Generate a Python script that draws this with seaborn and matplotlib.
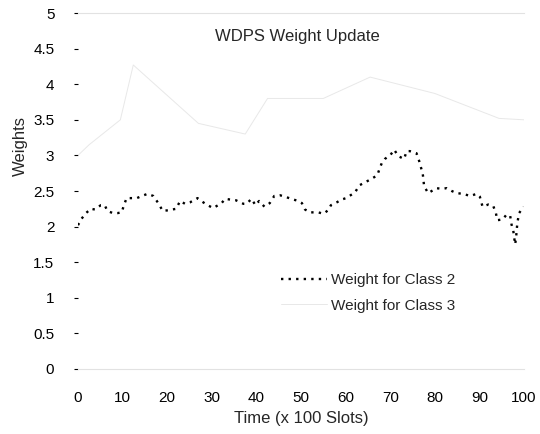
import matplotlib
matplotlib.use("Agg")
import matplotlib.pyplot as plt
import seaborn as sns
import pandas as pd
import numpy as np

# ---- data ----
time_c2 = [0, 0.8, 1.8, 2.9, 3.8, 5.1, 6.0, 6.6, 7.8, 8.9, 9.8, 10.3, 10.9, 12.0, 13.2,
           14.3, 15.6, 16.9, 18.0, 19.0, 20.3, 22.0, 22.9, 24.0, 25.1, 26.8, 27.6, 29.1,
           30.3, 32.2, 33.0, 34.1, 35.4, 37.1, 37.8, 38.9, 39.8, 40.6, 41.8, 43.0, 44.0,
           45.3, 46.4, 48.3, 49.4, 50.2, 50.9, 52.0, 53.1, 53.9, 55.0, 56.1, 56.7, 58.0,
           59.1, 60.1, 61.1, 62.1, 63.1, 64.3, 65.5, 67.1, 67.6, 68.1, 68.8, 70.1, 70.9,
           71.8, 73.1, 73.7, 74.4, 75.9, 76.5, 77.3, 77.6, 78.5, 79.3, 80.4, 81.5, 82.7,
           83.8, 84.9, 86.4, 87.9, 89.4, 90.1, 90.7, 92.0, 93.1, 93.7, 94.0, 95.2, 96.1,
           96.9, 97.2, 97.6, 98.0, 98.2, 98.5, 98.9, 99.9]
weight_c2 = [2.02, 2.11, 2.19, 2.25, 2.24, 2.30, 2.30, 2.22, 2.19, 2.19, 2.20, 2.30, 2.40,
             2.40, 2.40, 2.43, 2.46, 2.43, 2.33, 2.22, 2.23, 2.25, 2.36, 2.32, 2.34, 2.40,
             2.36, 2.30, 2.26, 2.33, 2.39, 2.38, 2.37, 2.32, 2.32, 2.39, 2.30, 2.36, 2.28,
             2.33, 2.43, 2.44, 2.42, 2.38, 2.36, 2.33, 2.24, 2.20, 2.20, 2.20, 2.18, 2.23,
             2.30, 2.34, 2.38, 2.40, 2.44, 2.48, 2.58, 2.62, 2.66, 2.72, 2.81, 2.89, 2.95,
             3.01, 3.08, 2.99, 2.95, 3.06, 3.06, 3.03, 2.92, 2.74, 2.57, 2.47, 2.50, 2.54,
             2.53, 2.54, 2.50, 2.47, 2.46, 2.43, 2.46, 2.42, 2.28, 2.31, 2.29, 2.19, 2.09,
             2.10, 2.17, 2.15, 2.03, 1.94, 1.75, 1.83, 2.05, 2.19, 2.28]

time_c3 = [0, 2.5, 9.5, 12.4, 27.0, 37.5, 42.5, 52.0, 55.0, 65.5, 80.0, 94.4, 100]
weight_c3 = [3.0, 3.15, 3.5, 4.27, 3.45, 3.3, 3.8, 3.8, 3.8, 4.1, 3.87, 3.52, 3.5]

x_ticks = [0, 10, 20, 30, 40, 50, 60, 70, 80, 90, 100]
y_ticks = [0, 0.5, 1, 1.5, 2, 2.5, 3, 3.5, 4, 4.5, 5]
y_tick_labels = ["0", "0.5", "1", "1.5", "2", "2.5", "3", "3.5", "4", "4.5", "5"]

series_names = ["Weight for Class 2", "Weight for Class 3"]

df = pd.concat([
    pd.DataFrame({"Time": time_c2, "Weight": weight_c2, "Series": series_names[0]}),
    pd.DataFrame({"Time": time_c3, "Weight": weight_c3, "Series": series_names[1]}),
], ignore_index=True)

sns.set_style("white")
plt.rcParams["font.family"] = ["Liberation Sans", "DejaVu Sans"]

fig = plt.figure(figsize=(5.40, 4.34), dpi=100)
ax = fig.add_axes([0.1444, 0.1498, 0.826, 0.8202])

sns.lineplot(data=df, x="Time", y="Weight", hue="Series", style="Series",
             palette={series_names[0]: "black", series_names[1]: "#e8e8e8"},
             dashes={series_names[0]: (1, 2.2), series_names[1]: ""},
             sort=True, estimator=None, ax=ax, legend=True)
for line in ax.get_lines():
    if line.get_color() == "black":
        line.set_linewidth(1.7)
    else:
        line.set_linewidth(0.7)

ax.set_xlim(0, 100)
ax.set_ylim(0, 5)
ax.set_xticks(x_ticks)
ax.set_yticks(y_ticks)
ax.set_yticklabels(y_tick_labels)
ax.tick_params(axis="both", labelsize=11, colors="black")
ax.tick_params(axis="y", length=3, width=0.8, direction="out", pad=14, left=True)
ax.tick_params(axis="x", length=0, pad=16)

for side in ["left", "right"]:
    ax.spines[side].set_visible(False)
for side in ["top", "bottom"]:
    ax.spines[side].set_color("#e2e2e2")
    ax.spines[side].set_linewidth(0.8)

ax.set_xlabel("Time (x 100 Slots)", fontsize=12, labelpad=4)
ax.set_ylabel("Weights", fontsize=12)
ax.yaxis.set_label_coords(-0.112, 0.626)

ax.text(0.491, 0.935, "WDPS Weight Update", transform=ax.transAxes,
        ha="center", va="center", fontsize=12)

handles, labels = ax.get_legend_handles_labels()
leg = ax.legend(handles, labels, loc="center left", bbox_to_anchor=(0.455, 0.214),
                frameon=False, fontsize=11, borderpad=0, borderaxespad=0,
                handlelength=3.0, handletextpad=0.3, labelspacing=0.75)

fig.savefig("out.png", dpi=100, facecolor="white")
